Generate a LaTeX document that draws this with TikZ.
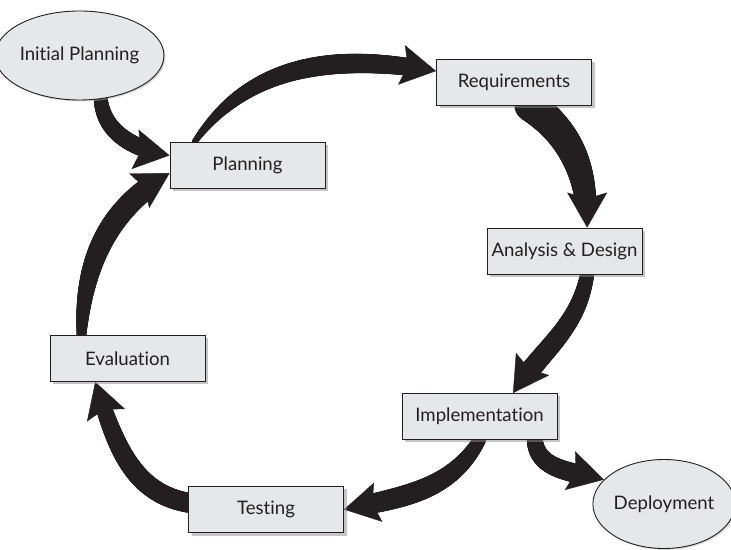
\documentclass[tikz,border=0pt]{standalone}
\usepackage{fontspec}
\setmainfont{Lato}[Ligatures={NoCommon,NoDiscretionary,NoRare}]
\usetikzlibrary{shapes.geometric,arrows.meta,decorations.markings,shadows,backgrounds}
\definecolor{boxgray}{HTML}{E6E7E8}
\definecolor{ink}{HTML}{231F20}
\tikzset{
  flow/.style n args={3}{draw=ink, line width=0.4pt,
    -{Stealth[length=35pt,width=40pt,inset=6pt]},
    postaction={decorate, decoration={markings,
      mark=between positions 0 and -26pt step 1pt with {
        \pgfmathsetmacro{\flowpos}{\pgfkeysvalueof{/pgf/decoration/mark info/distance from start}/\pgfdecoratedpathlength}
        \pgfmathsetmacro{\flowrad}{#1+(#2-#1)*\flowpos+#3*sin(180*\flowpos)}
        \fill[ink] (0,0) circle[radius=\flowrad pt];
      }}}}
}
\begin{document}
\begin{tikzpicture}[x=1pt,y=1pt]
	\tikzstyle{stage}=[rectangle,draw=ink,line width=0.9pt,fill=boxgray,text=ink,
		minimum width=155pt,minimum height=46pt,font=\fontsize{18.6}{20}\selectfont,
		drop shadow={shadow xshift=3pt,shadow yshift=-3pt,fill=black!45}]
	\tikzstyle{endpoint}=[ellipse,draw=ink,line width=0.9pt,fill=boxgray,text=ink,inner sep=0pt,
		minimum width=134pt,minimum height=89pt,font=\fontsize{18.6}{20}\selectfont,
		drop shadow={shadow xshift=1.5pt,shadow yshift=-1.5pt,fill=black!30}]
	\useasboundingbox (0,0) rectangle (731,549);
	\node[endpoint] (init) at (79.5,493.5) {Initial Planning};
	\node[endpoint] (dep) at (664,45) {Deployment};
	\node[stage] (plan) at (247.5,384) {Planning};
	\node[stage] (req) at (514,467) {Requirements};
	\node[stage] (ana) at (564.5,298) {Analysis \& Design};
	\node[stage] (impl) at (479.5,132.5) {Implementation};
	\node[stage] (test) at (266,39.5) {Testing};
	\node[stage] (eval) at (127.5,190.5) {Evaluation};
	% arrows go behind the boxes
	\begin{pgfonlayer}{background}
		\foreach \s/\t/\o/\i/\ra/\rb/\rc in {init.-64/plan.173/-85/170/7/8/1,
			eval.153/plan.-174/88/-150/5/10/3, plan.156/req.172/55/170/3/8/4,
			req.-55/ana.46/-35/90/16/8.5/1, ana.-46/impl.35/-100/56/7/10/1,
			impl.-23/dep.158/-85/165/8/9/1, impl.south/test.east/-120/12/6.5/9/2.5,
			test.175/eval.-144/170/-72/10/7/1}
		{
			\draw[flow={\ra}{\rb}{\rc}] (\s) to[out=\o,in=\i] (\t);
		}
	\end{pgfonlayer}
\end{tikzpicture}
\end{document}
